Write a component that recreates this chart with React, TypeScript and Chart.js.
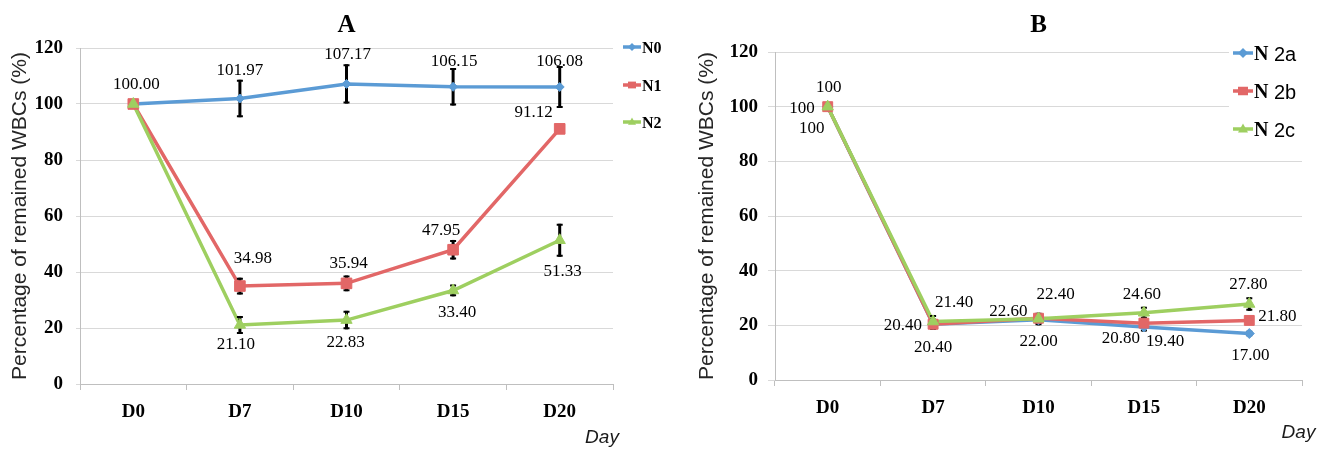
import React, { useEffect, useRef } from 'react';
import { Chart, registerables } from 'chart.js';

Chart.register(...registerables);

// ---------- data ----------
const DAYS = ['D0', 'D7', 'D10', 'D15', 'D20'];
const Y_MIN = 0;
const Y_MAX = 120;
const Y_STEP = 20;
const Y_TITLE = 'Percentage of remained WBCs (%)';
const X_TITLE = 'Day';

// Panel A
const A_N0 = [100.0, 101.97, 107.17, 106.15, 106.08];
const A_N0_ERR = [0, 6.7, 7.0, 6.7, 7.5];
const A_N1 = [100.0, 34.98, 35.94, 47.95, 91.12];
const A_N1_ERR = [0, 3.0, 2.8, 3.5, 0];
const A_N2 = [100.0, 21.1, 22.83, 33.4, 51.33];
const A_N2_ERR = [0, 3.2, 3.3, 2.1, 5.9];

// Panel B
const B_2A = [100, 20.4, 22.0, 19.4, 17.0];
const B_2A_ERR = [0, 2.0, 2.0, 1.7, 1.0];
const B_2B = [100, 20.4, 22.6, 20.8, 21.8];
const B_2B_ERR = [0, 2.0, 2.0, 1.5, 1.0];
const B_2C = [100, 21.4, 22.4, 24.6, 27.8];
const B_2C_ERR = [0, 2.4, 1.5, 2.2, 2.5];

// ---------- styles ----------
const BLUE = '#5b9bd5';
const RED = '#e26767';
const GREEN = '#9ecf60';
const GRID = '#d9d9d9';
const AXIS = '#bfbfbf';
const SERIF = '"Liberation Serif", "Times New Roman", serif';
const SANS = '"Liberation Sans", Arial, sans-serif';

type Marker = 'diamond' | 'square' | 'triangle';
interface Place { dx: number; dy: number; align: CanvasTextAlign }
interface TextPart { text: string; font: string }
interface SeriesCfg {
  name: TextPart[];
  values: number[];
  errors: number[];
  color: string;
  marker: Marker;
  radius: number;
  labels: (Place | null)[];
}
interface PanelCfg {
  title: string;
  left: number;
  width: number;
  area: { left: number; right: number; top: number; bottom: number };
  yTick: { length: number; padding: number };
  yTitlePad: number;
  xTick: { length: number; padding: number };
  legend: { x1: number; x2: number; textX: number; rows: number[]; box: number[] | null; mk: number };
  day: { x: number; y: number };
  format: (v: number) => string;
  series: SeriesCfg[];
}

const P = (dx: number, dy: number, align: CanvasTextAlign = 'center'): Place => ({ dx, dy, align });

const LEG_A_FONT = `bold 16px ${SERIF}`;
const LEG_B_N = `bold 20px ${SERIF}`;
const LEG_B_T = `20px ${SANS}`;

const PANEL_A: PanelCfg = {
  title: 'A',
  left: 0,
  width: 680,
  area: { left: 80, right: 613, top: 48, bottom: 384 },
  yTick: { length: 4, padding: 13 },
  yTitlePad: 7.4,
  xTick: { length: 6, padding: 10.5 },
  legend: { x1: 623, x2: 641, textX: 642, rows: [47, 85, 122], box: null, mk: 4 },
  day: { x: 602, y: 438 },
  format: (v) => v.toFixed(2),
  series: [
    {
      name: [{ text: 'N0', font: LEG_A_FONT }],
      values: A_N0, errors: A_N0_ERR, color: BLUE, marker: 'diamond', radius: 4.5,
      labels: [P(3, -19), P(0, -28), P(1, -29), P(1, -25), P(0, -25)],
    },
    {
      name: [{ text: 'N1', font: LEG_A_FONT }],
      values: A_N1, errors: A_N1_ERR, color: RED, marker: 'square', radius: 7.5,
      labels: [null, P(13, -28), P(2, -20), P(-12, -19), P(-7, -16, 'right')],
    },
    {
      name: [{ text: 'N2', font: LEG_A_FONT }],
      values: A_N2, errors: A_N2_ERR, color: GREEN, marker: 'triangle', radius: 6.5,
      labels: [null, P(-4, 20), P(-1, 22), P(4, 22), P(3, 31)],
    },
  ],
};

const PANEL_B: PanelCfg = {
  title: 'B',
  left: 662,
  width: 661,
  area: { left: 113, right: 640, top: 52, bottom: 380 },
  yTick: { length: 7, padding: 10 },
  yTitlePad: 32.9,
  xTick: { length: 6, padding: 10.5 },
  legend: { x1: 571, x2: 591, textX: 592, rows: [53, 91, 129], box: [567, 36, 94, 110], mk: 5 },
  day: { x: 636.5, y: 433 },
  format: (v) => (Number.isInteger(v) && v >= 100 ? String(v) : v.toFixed(2)),
  series: [
    {
      name: [{ text: 'N', font: LEG_B_N }, { text: ' 2a', font: LEG_B_T }],
      values: B_2A, errors: B_2A_ERR, color: BLUE, marker: 'diamond', radius: 5,
      labels: [P(-16, 22), P(0, 23), P(0, 22), P(2, 15, 'left'), P(1, 22)],
    },
    {
      name: [{ text: 'N', font: LEG_B_N }, { text: ' 2b', font: LEG_B_T }],
      values: B_2B, errors: B_2B_ERR, color: RED, marker: 'square', radius: 7,
      labels: [P(-13, 2, 'right'), P(-11, 1, 'right'), P(-11, -7, 'right'), P(-4, 15, 'right'), P(9, -4, 'left')],
    },
    {
      name: [{ text: 'N', font: LEG_B_N }, { text: ' 2c', font: LEG_B_T }],
      values: B_2C, errors: B_2C_ERR, color: GREEN, marker: 'triangle', radius: 6.5,
      labels: [P(1, -19), P(21, -19), P(17, -24), P(-2, -18), P(-1, -19)],
    },
  ],
};

const STYLE: Record<Marker, string> = { diamond: 'rectRot', square: 'rect', triangle: 'triangle' };

function drawMarker(ctx: CanvasRenderingContext2D, m: Marker, x: number, y: number, r: number, color: string) {
  ctx.save();
  ctx.fillStyle = color;
  ctx.beginPath();
  if (m === 'diamond') {
    ctx.moveTo(x, y - r); ctx.lineTo(x + r, y); ctx.lineTo(x, y + r); ctx.lineTo(x - r, y);
  } else if (m === 'square') {
    ctx.rect(x - r, y - r * 0.85, 2 * r, 1.7 * r);
  } else {
    ctx.moveTo(x, y - r * 1.1); ctx.lineTo(x + r, y + r * 0.7); ctx.lineTo(x - r, y + r * 0.7);
  }
  ctx.closePath();
  ctx.fill();
  ctx.restore();
}

function buildChart(canvas: HTMLCanvasElement, cfg: PanelCfg) {
  const n = cfg.series.length;
  const lineSets = cfg.series.map((s, i) => ({
    label: s.name.map((p) => p.text).join(''),
    data: s.values,
    borderColor: s.color,
    backgroundColor: s.color,
    borderWidth: 3.5,
    pointRadius: 0,
    pointHoverRadius: 0,
    tension: 0,
    fill: false,
    order: 2 * n - i,
  }));
  const pointSets = cfg.series.map((s, i) => ({
    label: s.name.map((p) => p.text).join('') + ' marker',
    data: s.values,
    showLine: false,
    pointStyle: STYLE[s.marker],
    pointRadius: s.radius,
    pointHoverRadius: s.radius,
    pointBackgroundColor: s.color,
    pointBorderColor: s.color,
    pointBorderWidth: 1,
    borderColor: s.color,
    backgroundColor: s.color,
    order: n - i,
  }));

  const errorPlugin = {
    id: 'errbars',
    afterDatasetDraw(chart: any, args: any) {
      if (args.index !== n - 1) return;
      const ctx = chart.ctx as CanvasRenderingContext2D;
      const ys = chart.scales.y;
      ctx.save();
      ctx.strokeStyle = '#000';
      cfg.series.forEach((s, si) => {
        const meta = chart.getDatasetMeta(si);
        s.errors.forEach((e, i) => {
          if (!e) return;
          const x = meta.data[i].x;
          const yt = ys.getPixelForValue(s.values[i] + e);
          const yb = ys.getPixelForValue(s.values[i] - e);
          ctx.lineWidth = 3;
          ctx.beginPath();
          ctx.moveTo(x, yt);
          ctx.lineTo(x, yb);
          ctx.stroke();
          ctx.lineWidth = 2;
          ctx.beginPath();
          ctx.moveTo(x - 3, yt + 1); ctx.lineTo(x + 3, yt + 1);
          ctx.moveTo(x - 3, yb - 1); ctx.lineTo(x + 3, yb - 1);
          ctx.stroke();
        });
      });
      ctx.restore();
    },
  };

  const labelPlugin = {
    id: 'vlabels',
    afterDatasetsDraw(chart: any) {
      const ctx = chart.ctx as CanvasRenderingContext2D;
      ctx.save();
      ctx.font = `17px ${SERIF}`;
      ctx.fillStyle = '#000';
      ctx.textBaseline = 'middle';
      cfg.series.forEach((s, si) => {
        const meta = chart.getDatasetMeta(si);
        s.labels.forEach((pl, i) => {
          if (!pl) return;
          const pt = meta.data[i];
          ctx.textAlign = pl.align;
          ctx.fillText(cfg.format(s.values[i]), pt.x + pl.dx, pt.y + pl.dy);
        });
      });
      ctx.restore();
    },
  };

  const decorPlugin = {
    id: 'decor',
    afterDraw(chart: any) {
      const ctx = chart.ctx as CanvasRenderingContext2D;
      const ca = chart.chartArea;
      ctx.save();
      // title
      ctx.fillStyle = '#000';
      ctx.font = `bold 25px ${SERIF}`;
      ctx.textAlign = 'center';
      ctx.textBaseline = 'middle';
      ctx.fillText(cfg.title, (ca.left + ca.right) / 2, 26);
      // x title
      ctx.font = `italic 19px ${SANS}`;
      ctx.fillStyle = '#1a1a1a';
      ctx.fillText(X_TITLE, cfg.day.x, cfg.day.y);
      // legend
      const lg = cfg.legend;
      if (lg.box) {
        ctx.fillStyle = '#fff';
        ctx.fillRect(lg.box[0], lg.box[1], lg.box[2], lg.box[3]);
      }
      cfg.series.forEach((s, i) => {
        const y = lg.rows[i];
        ctx.strokeStyle = s.color;
        ctx.lineWidth = 3.5;
        ctx.beginPath();
        ctx.moveTo(lg.x1, y);
        ctx.lineTo(lg.x2, y);
        ctx.stroke();
        drawMarker(ctx, s.marker, (lg.x1 + lg.x2) / 2, y, lg.mk, s.color);
        let x = lg.textX;
        ctx.textAlign = 'left';
        ctx.textBaseline = 'middle';
        ctx.fillStyle = '#000';
        s.name.forEach((part) => {
          ctx.font = part.font;
          ctx.fillText(part.text, x, y + 2);
          x += ctx.measureText(part.text).width;
        });
      });
      ctx.restore();
    },
  };

  const tickFont = { family: SERIF, weight: 'bold' as const, size: 19 };

  return new Chart(canvas, {
    type: 'line',
    data: { labels: DAYS, datasets: [...lineSets, ...pointSets] as any },
    options: {
      responsive: false,
      maintainAspectRatio: false,
      animation: false,
      events: [],
      layout: {
        padding: { left: 0, right: cfg.width - cfg.area.right, top: cfg.area.top, bottom: 0 },
      },
      plugins: {
        legend: { display: false },
        title: { display: false },
        tooltip: { enabled: false },
      },
      scales: {
        x: {
          type: 'category',
          offset: true,
          grid: {
            display: true,
            drawOnChartArea: false,
            drawTicks: true,
            tickLength: cfg.xTick.length,
            color: AXIS,
            tickColor: AXIS,
            offset: true,
          },
          border: { display: true, color: AXIS, width: 1 },
          ticks: { font: tickFont, color: '#000', padding: cfg.xTick.padding, maxRotation: 0, autoSkip: false },
          afterFit: (scale: any) => {
            scale.height = 449 - cfg.area.bottom;
          },
        },
        y: {
          min: Y_MIN,
          max: Y_MAX,
          ticks: { stepSize: Y_STEP, font: tickFont, color: '#000', padding: cfg.yTick.padding },
          grid: { color: GRID, tickColor: GRID, drawTicks: true, tickLength: cfg.yTick.length },
          border: { display: true, color: AXIS, width: 1 },
          title: {
            display: true,
            text: Y_TITLE,
            font: { family: SANS, size: 21 },
            color: '#262626',
            padding: { top: cfg.yTitlePad, bottom: 0 },
          },
          afterFit: (scale: any) => {
            scale.width = cfg.area.left;
          },
        },
      },
    } as any,
    plugins: [errorPlugin, labelPlugin, decorPlugin] as any,
  });
}

function Panel({ cfg }: { cfg: PanelCfg }) {
  const ref = useRef<HTMLCanvasElement | null>(null);
  useEffect(() => {
    if (!ref.current) return;
    const chart = buildChart(ref.current, cfg);
    return () => chart.destroy();
  }, [cfg]);
  return (
    <canvas
      ref={ref}
      width={cfg.width}
      height={449}
      style={{ position: 'absolute', left: cfg.left, top: 0, width: cfg.width, height: 449 }}
    />
  );
}

export default function App() {
  return (
    <div
      style={{
        position: 'absolute',
        left: 0,
        top: 0,
        width: 1323,
        height: 449,
        background: '#fff',
        overflow: 'hidden',
      }}
    >
      <Panel cfg={PANEL_A} />
      <Panel cfg={PANEL_B} />
    </div>
  );
}
